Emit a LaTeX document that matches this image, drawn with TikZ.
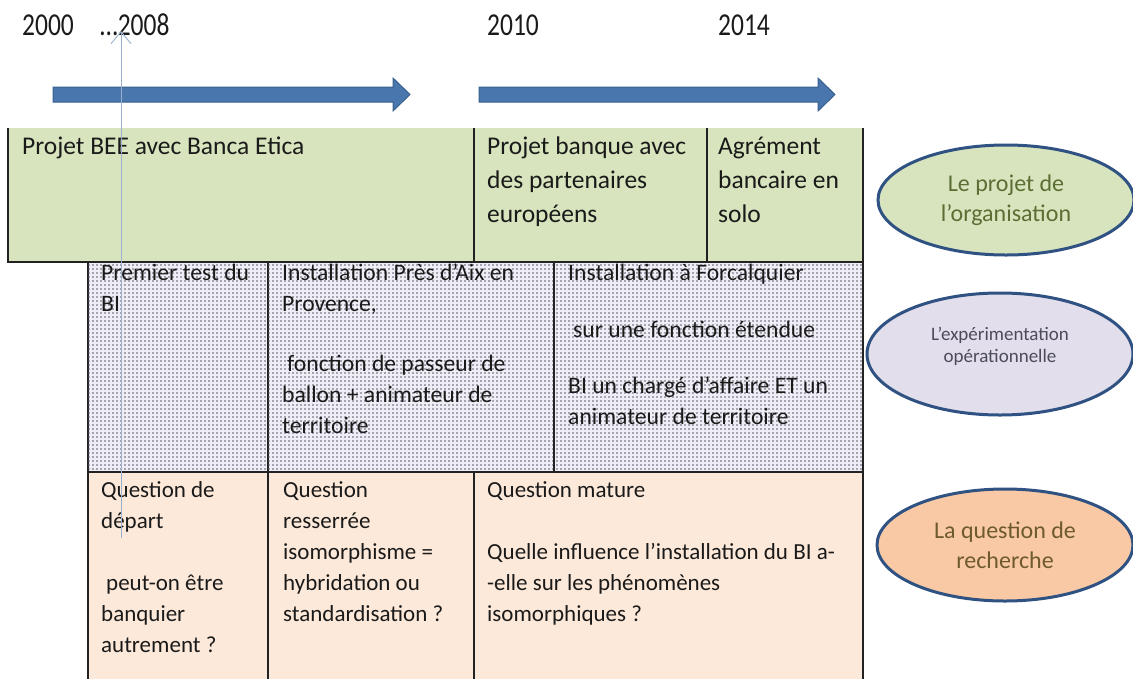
\documentclass[tikz,border=0pt]{standalone}
\usepackage{fontspec}
\setmainfont{Carlito}
\usetikzlibrary{arrows.meta,shapes.geometric,patterns}
\definecolor{gfill}{HTML}{D7E4BD}
\definecolor{pfill}{HTML}{FDE9D9}
\definecolor{dfill}{HTML}{EFEEF6}
\definecolor{dotc}{HTML}{5A5A6A}
\definecolor{arrowblue}{HTML}{4A76AE}
\definecolor{arrowedge}{HTML}{38608F}
\definecolor{ellipseedge}{HTML}{2F5283}
\definecolor{egreen}{HTML}{D7E4BD}
\definecolor{epurple}{HTML}{E2DEEC}
\definecolor{epeach}{HTML}{F8C9A4}
\definecolor{tgreen}{HTML}{5B6E34}
\definecolor{tpurple}{HTML}{4D4A5C}
\definecolor{tpeach}{HTML}{6E5A2E}
\definecolor{linec}{HTML}{222222}
\definecolor{thinarrow}{HTML}{9AB0CC}
\definecolor{txt}{HTML}{1A1A1A}
\newcommand{\firstln}{\rule{0pt}{20pt}}
\newcommand{\yr}[1]{\scalebox{1}[1.25]{#1}}
\pgfdeclarepatternformonly{mydots}{\pgfqpoint{-1pt}{-1pt}}{\pgfqpoint{3pt}{3pt}}{\pgfqpoint{4pt}{4pt}}{\pgfpathcircle{\pgfqpoint{1pt}{1pt}}{0.95pt}\pgfusepath{fill}}
\begin{document}
\begin{tikzpicture}[x=1pt,y=-1pt,
  cellbox/.style={anchor=north west,inner sep=0pt,outer sep=0pt,rectangle},
  gcell/.style={cellbox,fill=gfill},
  dcell/.style={cellbox,fill=dfill,postaction={pattern=mydots,pattern color=dotc},draw=linec,line width=1.1pt},
  pcell/.style={cellbox,fill=pfill,draw=linec,line width=1.1pt},
  gtext/.style={anchor=north west,align=left,inner sep=0pt,text=txt,font=\fontsize{25.5}{34}\selectfont},
  ctext/.style={anchor=north west,align=left,inner sep=0pt,text=txt,font=\fontsize{23}{31}\selectfont},
  dtext/.style={ctext,font=\fontsize{23.6}{31}\selectfont},
  year/.style={anchor=base west,inner sep=0pt,text=txt,font=\fontsize{25.5}{28}\selectfont},
  oval/.style={ellipse,draw=ellipseedge,line width=3pt,align=center,inner sep=0pt},
  blockarrow/.style={fill=arrowblue,draw=arrowedge,line width=1pt,line join=miter},
  gridline/.style={draw=linec,line width=1.1pt}
]
\useasboundingbox (0,0) rectangle (1133,678);

% years
\node[year] (y2000) at (22,35) {\yr{2000}};
\node[year] (y2008) at (100,35) {\yr{…2008}};
\node[year] (y2010) at (487,35) {\yr{2010}};
\node[year] (y2014) at (718,35) {\yr{2014}};

% block arrows
\path[blockarrow] (53,87) -- (393,87) -- (393,78) -- (410,94.5) -- (393,111) -- (393,102) -- (53,102) -- cycle;
\path[blockarrow] (479,87) -- (818,87) -- (818,78) -- (835,94.5) -- (818,111) -- (818,102) -- (479,102) -- cycle;

% green row
\node[gcell,minimum width=466pt,minimum height=134pt] (g1) at (8,128) {};
\node[gcell,minimum width=233pt,minimum height=134pt] (g2) at (474,128) {};
\node[gcell,minimum width=156pt,minimum height=134pt] (g3) at (707,128) {};
\draw[gridline] (g1.north west) -- (g1.south west) -- (g3.south east) -- (g3.north east);
\draw[gridline] (g1.north east) -- (g1.south east);
\draw[gridline] (g2.north east) -- (g2.south east);

% dotted row
\node[dcell,minimum width=180pt,minimum height=210pt] (d1) at (88,262) {};
\node[dcell,minimum width=286pt,minimum height=210pt] (d2) at (268,262) {};
\node[dcell,minimum width=309pt,minimum height=210pt] (d3) at (554,262) {};

% peach row
\node[pcell,minimum width=180pt,minimum height=210pt] (p1) at (88,472) {};
\node[pcell,minimum width=206pt,minimum height=210pt] (p2) at (268,472) {};
\node[pcell,minimum width=389pt,minimum height=210pt] (p3) at (474,472) {};

% texts green (first baseline at 154)
\node[gtext] (tg1) at (22,134) {\firstln Projet BEE avec Banca Etica};
\node[gtext] (tg2) at (487,134) {\firstln Projet banque avec\\des partenaires\\européens};
\node[gtext] (tg3) at (718,134) {\firstln Agrément\\bancaire en\\solo};

% texts dotted (first baseline at 280)
\node[dtext] (td1) at (101,260) {\firstln Premier test du\\BI};
\node[dtext] (td2) at (282,260) {\firstln Installation Près d’Aix en\\Provence,\\[29pt]\hspace*{5pt}fonction de passeur de\\ballon + animateur de\\territoire};
\node[dtext] (td3) at (568,260) {\firstln Installation à Forcalquier\\[26pt]\hspace*{5pt}sur une fonction étendue\\[25pt]BI un chargé d’affaire ET un\\animateur de territoire};

% texts peach (first baseline at 497)
\node[ctext] (tp1) at (101,477) {\firstln Question de\\départ\\[31pt]\hspace*{5pt}peut-on être\\banquier\\autrement ?};
\node[ctext] (tp2) at (283,477) {\firstln Question\\resserrée\\isomorphisme =\\hybridation ou\\standardisation ?};
\node[ctext] (tp3) at (487,477) {\firstln Question mature\\[31pt]Quelle influence l’installation du BI a-\\-elle sur les phénomènes\\isomorphiques ?};

% thin vertical arrow
\coordinate (vbot) at (121,538);
\coordinate (vtop) at (121,31);
\draw[draw=thinarrow,line width=0.9pt,-{Straight Barb[length=12pt,width=20pt,line width=0.9pt]}] (vbot) -- (vtop);

% ellipses
\node[oval,fill=egreen,text=tgreen,minimum width=256pt,minimum height=110pt,font=\fontsize{24}{30}\selectfont] (e1) at (1006,200) {Le projet de\\l’organisation};
\node[oval,fill=epurple,text=tpurple,minimum width=266pt,minimum height=122pt,font=\fontsize{19}{22}\selectfont] (e2) at (1000,354) {L’expérimentation\\opérationnelle\\[-4pt]};
\node[oval,fill=epeach,text=tpeach,minimum width=256pt,minimum height=112pt,font=\fontsize{24}{30}\selectfont] (e3) at (1005,545) {La question de\\recherche};
\end{tikzpicture}
\end{document}
